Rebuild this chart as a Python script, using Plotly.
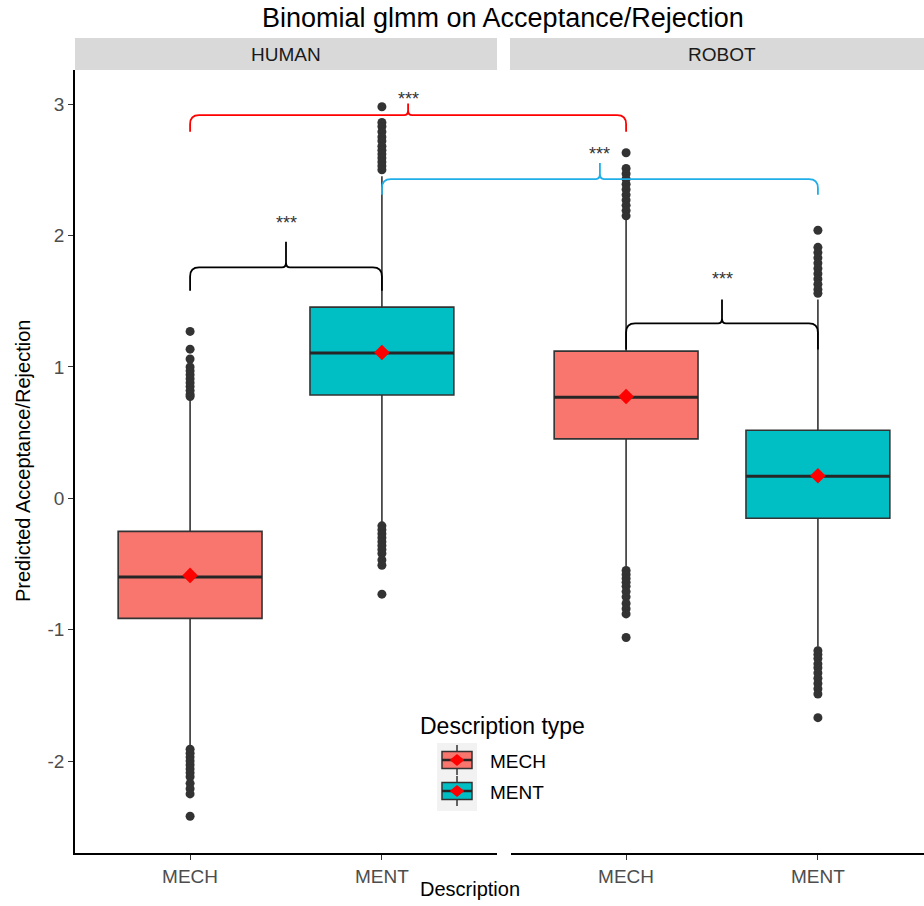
import plotly.graph_objects as go

# ---------------- data ----------------
panels = ["HUMAN", "HUMAN", "ROBOT", "ROBOT"]
descs = ["MECH", "MENT", "MECH", "MENT"]
categories = ["MECH", "MENT"]
q1 = [-0.914, 0.786, 0.452, -0.152]
median = [-0.600, 1.105, 0.770, 0.168]
q3 = [-0.252, 1.455, 1.120, 0.518]
mean = [-0.587, 1.110, 0.775, 0.172]
lower_whisker = [-1.886, -0.191, -0.520, -1.130]
upper_whisker = [0.763, 2.452, 2.125, 1.514]
outliers = [
    [1.27, 1.135, 1.06, 1.00, 0.97, 0.94, 0.91, 0.88, 0.85, 0.82, 0.79, 0.775,
     -1.91, -1.94, -1.97, -2.00, -2.03, -2.06, -2.09, -2.12, -2.17, -2.21, -2.25, -2.42],
    [2.98, 2.86, 2.83, 2.79, 2.75, 2.72, 2.68, 2.65, 2.62, 2.59, 2.56, 2.53, 2.50,
     -0.21, -0.24, -0.27, -0.30, -0.33, -0.36, -0.39, -0.42, -0.47, -0.51, -0.73],
    [2.63, 2.51, 2.47, 2.43, 2.39, 2.35, 2.31, 2.27, 2.23, 2.19, 2.15,
     -0.55, -0.58, -0.61, -0.64, -0.67, -0.71, -0.75, -0.80, -0.84, -0.88, -1.06],
    [2.04, 1.91, 1.87, 1.83, 1.79, 1.75, 1.71, 1.67, 1.63, 1.59, 1.56,
     -1.16, -1.19, -1.22, -1.26, -1.29, -1.33, -1.37, -1.41, -1.45, -1.49, -1.67],
]
fill_colors = {"MECH": "#F8766D", "MENT": "#00BFC4"}
y_ticks = [-2, -1, 0, 1, 2, 3]

# significance brackets: (panel_a, desc_a) -> (panel_b, desc_b)
sig_from = [("HUMAN", "MECH"), ("HUMAN", "MENT"), ("HUMAN", "MECH"), ("ROBOT", "MECH")]
sig_to = [("ROBOT", "MECH"), ("ROBOT", "MENT"), ("HUMAN", "MENT"), ("ROBOT", "MENT")]
sig_level = [2.916, 2.430, 1.757, 1.331]
sig_tip = [3.005, 2.553, 1.952, 1.514]
sig_end = [2.790, 2.310, 1.579, 1.133]
sig_label_y = [3.086, 2.665, 2.138, 1.716]
sig_labels = ["***", "***", "***", "***"]
sig_colors = ["#FF0000", "#1FAEE8", "#000000", "#000000"]

# ---------------- layout geometry ----------------
OFF = 0                      # page body margin (removed by post_script)
W, H = 924 - OFF, 906 - OFF  # figure size
ML, MT, MB = 75 - OFF, 70 - OFF, 53
PW = W - ML
PH = H - MT - MB
unit_px = (497 - 75) / 2.2
dom = {"HUMAN": [0.0, (497 - 75) / PW], "ROBOT": [(511 - 75) / PW, 1.0]}
rng = {"HUMAN": [0.4, 2.6], "ROBOT": [0.4, 0.4 + (924 - 511) / unit_px]}
xa_of = {"HUMAN": "x", "ROBOT": "x2"}
YR = [-2.70, 3.26]
FONT = "Liberation Sans, Arial, Helvetica, sans-serif"


def xpaper(panel, xv):
    d, r = dom[panel], rng[panel]
    return d[0] + (xv - r[0]) / (r[1] - r[0]) * (d[1] - d[0])


def px2x(px):  # page px -> paper x
    return (px - OFF - ML) / PW


def py2y(py):  # page px -> paper y
    return (H - MB - (py - OFF)) / PH


pos_of = {c: i + 1 for i, c in enumerate(categories)}
BOXW = 0.75

fig = go.Figure()
for i in range(4):
    p, d = panels[i], descs[i]
    xa = xa_of[p]
    pos = pos_of[d]
    fig.add_trace(go.Box(
        x=[pos], q1=[q1[i]], median=[median[i]], q3=[q3[i]],
        lowerfence=[lower_whisker[i]], upperfence=[upper_whisker[i]],
        fillcolor=fill_colors[d], line=dict(color="#333333", width=1.6),
        whiskerwidth=0, width=BOXW, boxpoints=False,
        xaxis=xa, yaxis="y", hoverinfo="skip", showlegend=False))
    fig.add_trace(go.Scatter(
        x=[pos - BOXW / 2, pos + BOXW / 2], y=[median[i], median[i]],
        mode="lines", line=dict(color="#262626", width=3),
        xaxis=xa, yaxis="y", hoverinfo="skip", showlegend=False))
    fig.add_trace(go.Scatter(
        x=[pos] * len(outliers[i]), y=outliers[i], mode="markers",
        marker=dict(color="#333333", size=9),
        xaxis=xa, yaxis="y", hoverinfo="skip", showlegend=False))
    fig.add_trace(go.Scatter(
        x=[pos], y=[mean[i]], mode="markers",
        marker=dict(color="#FF0000", size=12, symbol="diamond"),
        xaxis=xa, yaxis="y", hoverinfo="skip", showlegend=False))

shapes = []
annotations = []


def add_text(x, y, text, size, color="#000000", xanchor="center", yanchor="middle",
             xref="paper", yref="paper", **kw):
    annotations.append(dict(x=x, y=y, xref=xref, yref=yref, text=text, showarrow=False,
                            xanchor=xanchor, yanchor=yanchor,
                            font=dict(family=FONT, size=size, color=color), **kw))


# brackets
ypx = PH / (YR[1] - YR[0])
dxe = 9 / PW
dxt = 4 / PW
ce = 9 / ypx
ct = 5 / ypx
for k in range(len(sig_from)):
    x1 = xpaper(sig_from[k][0], pos_of[sig_from[k][1]])
    x2 = xpaper(sig_to[k][0], pos_of[sig_to[k][1]])
    xm = (x1 + x2) / 2
    yl, yt, ye = sig_level[k], sig_tip[k], sig_end[k]
    path = (f"M {x1},{ye} L {x1},{yl - ce} Q {x1},{yl} {x1 + dxe},{yl} "
            f"L {xm - dxt},{yl} Q {xm},{yl} {xm},{yl + ct} L {xm},{yt} "
            f"L {xm},{yl + ct} Q {xm},{yl} {xm + dxt},{yl} "
            f"L {x2 - dxe},{yl} Q {x2},{yl} {x2},{yl - ce} L {x2},{ye}")
    shapes.append(dict(type="path", path=path, xref="paper", yref="y",
                       line=dict(color=sig_colors[k], width=1.8)))
    add_text(xm, sig_label_y[k], sig_labels[k], 18, color="#333333", yref="y", yshift=-6)

# facet strips
strip_top = py2y(38)
for p in ["HUMAN", "ROBOT"]:
    x0 = dom[p][0] if p == "HUMAN" else px2x(510)
    shapes.append(dict(type="rect", xref="paper", yref="paper", x0=x0, x1=dom[p][1],
                       y0=1.0, y1=strip_top, fillcolor="#D9D9D9", line=dict(width=0),
                       layer="below"))
    cx = xpaper(p, (rng["HUMAN"][0] + rng["HUMAN"][1]) / 2)
    add_text(cx, (1.0 + strip_top) / 2, p, 19, color="#1A1A1A")

# title and axis titles
add_text(px2x(503), py2y(18), "Binomial glmm on Acceptance/Rejection", 27)
add_text(px2x(470), py2y(889), "Description", 20)
add_text(px2x(23), py2y(461), "Predicted Acceptance/Rejection", 20, textangle=-90)

# manual legend
add_text(px2x(502), py2y(726), "Description type", 23)
shapes.append(dict(type="rect", xref="paper", yref="paper", x0=px2x(437), x1=px2x(477),
                   y0=py2y(811), y1=py2y(743), fillcolor="#F2F2F2", line=dict(width=0)))
for d, cy in [("MECH", 760), ("MENT", 791)]:
    xc = 457
    shapes.append(dict(type="line", xref="paper", yref="paper", x0=px2x(xc), x1=px2x(xc),
                       y0=py2y(cy - 15), y1=py2y(cy + 15), line=dict(color="#333333", width=1.5)))
    shapes.append(dict(type="rect", xref="paper", yref="paper", x0=px2x(442), x1=px2x(472),
                       y0=py2y(cy + 8.5), y1=py2y(cy - 8.5), fillcolor=fill_colors[d],
                       line=dict(color="#333333", width=1.5)))
    shapes.append(dict(type="line", xref="paper", yref="paper", x0=px2x(442), x1=px2x(472),
                       y0=py2y(cy), y1=py2y(cy), line=dict(color="#262626", width=2.5)))
    dpath = (f"M {px2x(xc - 7.3)},{py2y(cy)} L {px2x(xc)},{py2y(cy - 6)} "
             f"L {px2x(xc + 7.3)},{py2y(cy)} L {px2x(xc)},{py2y(cy + 6)} Z")
    shapes.append(dict(type="path", xref="paper", yref="paper", path=dpath,
                       fillcolor="#FF0000", line=dict(width=0)))
    add_text(px2x(488), py2y(cy + 1), d, 19, xanchor="left")

axis_common = dict(tickvals=[1, 2], ticktext=categories, showline=True, linecolor="#000000",
                   linewidth=1.5, ticks="outside", ticklen=5, tickwidth=1.2,
                   tickcolor="#333333", showgrid=False, zeroline=False,
                   tickfont=dict(family=FONT, size=19, color="#4D4D4D"), fixedrange=True)

fig.update_layout(
    width=W, height=H,
    margin=dict(l=ML, r=0, t=MT, b=MB, pad=0),
    plot_bgcolor="white", paper_bgcolor="white",
    showlegend=False, boxmode="overlay",
    font=dict(family=FONT),
    xaxis=dict(domain=dom["HUMAN"], range=rng["HUMAN"], anchor="y", **axis_common),
    xaxis2=dict(domain=dom["ROBOT"], range=rng["ROBOT"], anchor="y", **axis_common),
    yaxis=dict(range=YR, tickvals=y_ticks, ticktext=[str(t) for t in y_ticks], anchor="x",
               showline=True, linecolor="#000000", linewidth=1.5, ticks="outside",
               ticklen=5, tickwidth=1.2, tickcolor="#333333", showgrid=False, zeroline=False,
               tickfont=dict(family=FONT, size=19, color="#4D4D4D"), fixedrange=True),
    shapes=shapes,
    annotations=annotations,
)

fig.write_html("out.html",
               config={"displayModeBar": False},
               post_script="document.body.style.margin='0';document.body.style.overflow='hidden';")
